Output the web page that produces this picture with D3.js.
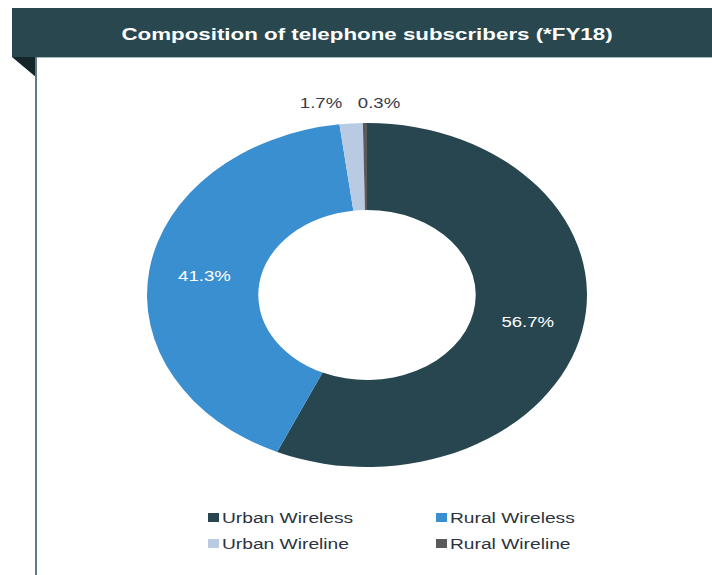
<!DOCTYPE html>
<html>
<head>
<meta charset="utf-8">
<script src="https://cdn.jsdelivr.net/npm/d3@7"></script>
<style>
  html, body { margin: 0; padding: 0; background: #ffffff; }
  svg { display: block; }
  text { font-family: "Liberation Sans", Arial, sans-serif; }
</style>
</head>
<body>
<svg id="chart" width="712" height="575"></svg>
<script>
// ---- data ----
const title = "Composition of telephone subscribers (*FY18)";
const categories = ["Urban Wireless", "Rural Wireless", "Urban Wireline", "Rural Wireline"];
const values = [56.7, 41.3, 1.7, 0.3];
const labels = ["56.7%", "41.3%", "1.7%", "0.3%"];
const colors = ["#27464f", "#3a8fd0", "#b8cbe3", "#5a5a5a"];

// ---- layout ----
const W = 712, H = 575;
const svg = d3.select("#chart");
const sx = 1.279;          // horizontal stretch of the reference
const cx = 367, cy = 295;
const rOuter = 172, rInner = 85;

// header band
svg.append("rect").attr("x", 12).attr("y", 8).attr("width", W - 12).attr("height", 49)
  .attr("fill", "#29474f");
svg.append("line").attr("x1", 36).attr("x2", W).attr("y1", 57.5).attr("y2", 57.5)
  .attr("stroke", "#a9b8bc").attr("stroke-width", 1);
svg.append("path").attr("d", "M12,57 L37,57 L37,78 Z").attr("fill", "#15262b");
svg.append("line").attr("x1", 36).attr("x2", 36).attr("y1", 57).attr("y2", H)
  .attr("stroke", "#5f7a82").attr("stroke-width", 2);

svg.append("text")
  .attr("transform", `translate(367,40) scale(1.33,1)`)
  .attr("text-anchor", "middle")
  .attr("font-size", 16.8).attr("font-weight", "bold").attr("fill", "#ffffff")
  .text(title);

// donut
const data = categories.map((c, i) => ({ cat: c, value: values[i], label: labels[i], color: colors[i] }));
const pie = d3.pie().value(d => d.value).sort(null);
const arc = d3.arc().innerRadius(rInner).outerRadius(rOuter);
const arcs = pie(data);

const g = svg.append("g").attr("transform", `translate(${cx},${cy}) scale(${sx},1)`);
g.selectAll("path.slice").data(arcs).enter().append("path")
  .attr("class", "slice")
  .attr("d", arc)
  .attr("fill", d => d.data.color);

// inside labels (big slices)
arcs.forEach(a => {
  if (a.data.value > 10) {
    const [x, y] = arc.centroid(a);
    svg.append("text")
      .attr("transform", `translate(${cx + x * sx},${cy + y + 5}) scale(1.24,1)`)
      .attr("text-anchor", "middle")
      .attr("font-size", 15).attr("fill", "#ffffff")
      .text(a.data.label);
  }
});

// outside labels (small slices), spread above the top of the ring
const small = arcs.filter(a => a.data.value <= 10);
const outsideDx = [-46, 12];
small.forEach((a, j) => {
  svg.append("text")
    .attr("transform", `translate(${cx + outsideDx[j]},${cy - rOuter - 15}) scale(1.24,1)`)
    .attr("text-anchor", "middle")
    .attr("font-size", 15).attr("fill", "#3a3a4a")
    .text(a.data.label);
});

// legend
const legX = [208, 436], legY = [513, 539];
data.forEach((d, i) => {
  const x = legX[i % 2], y = legY[Math.floor(i / 2)];
  svg.append("rect").attr("x", x).attr("y", y).attr("width", 11).attr("height", 9)
    .attr("fill", d.color);
  svg.append("text")
    .attr("transform", `translate(${x + 14},${y + 10}) scale(1.24,1)`)
    .attr("font-size", 15.5).attr("fill", "#2c3340")
    .text(d.cat);
});
</script>
</body>
</html>
